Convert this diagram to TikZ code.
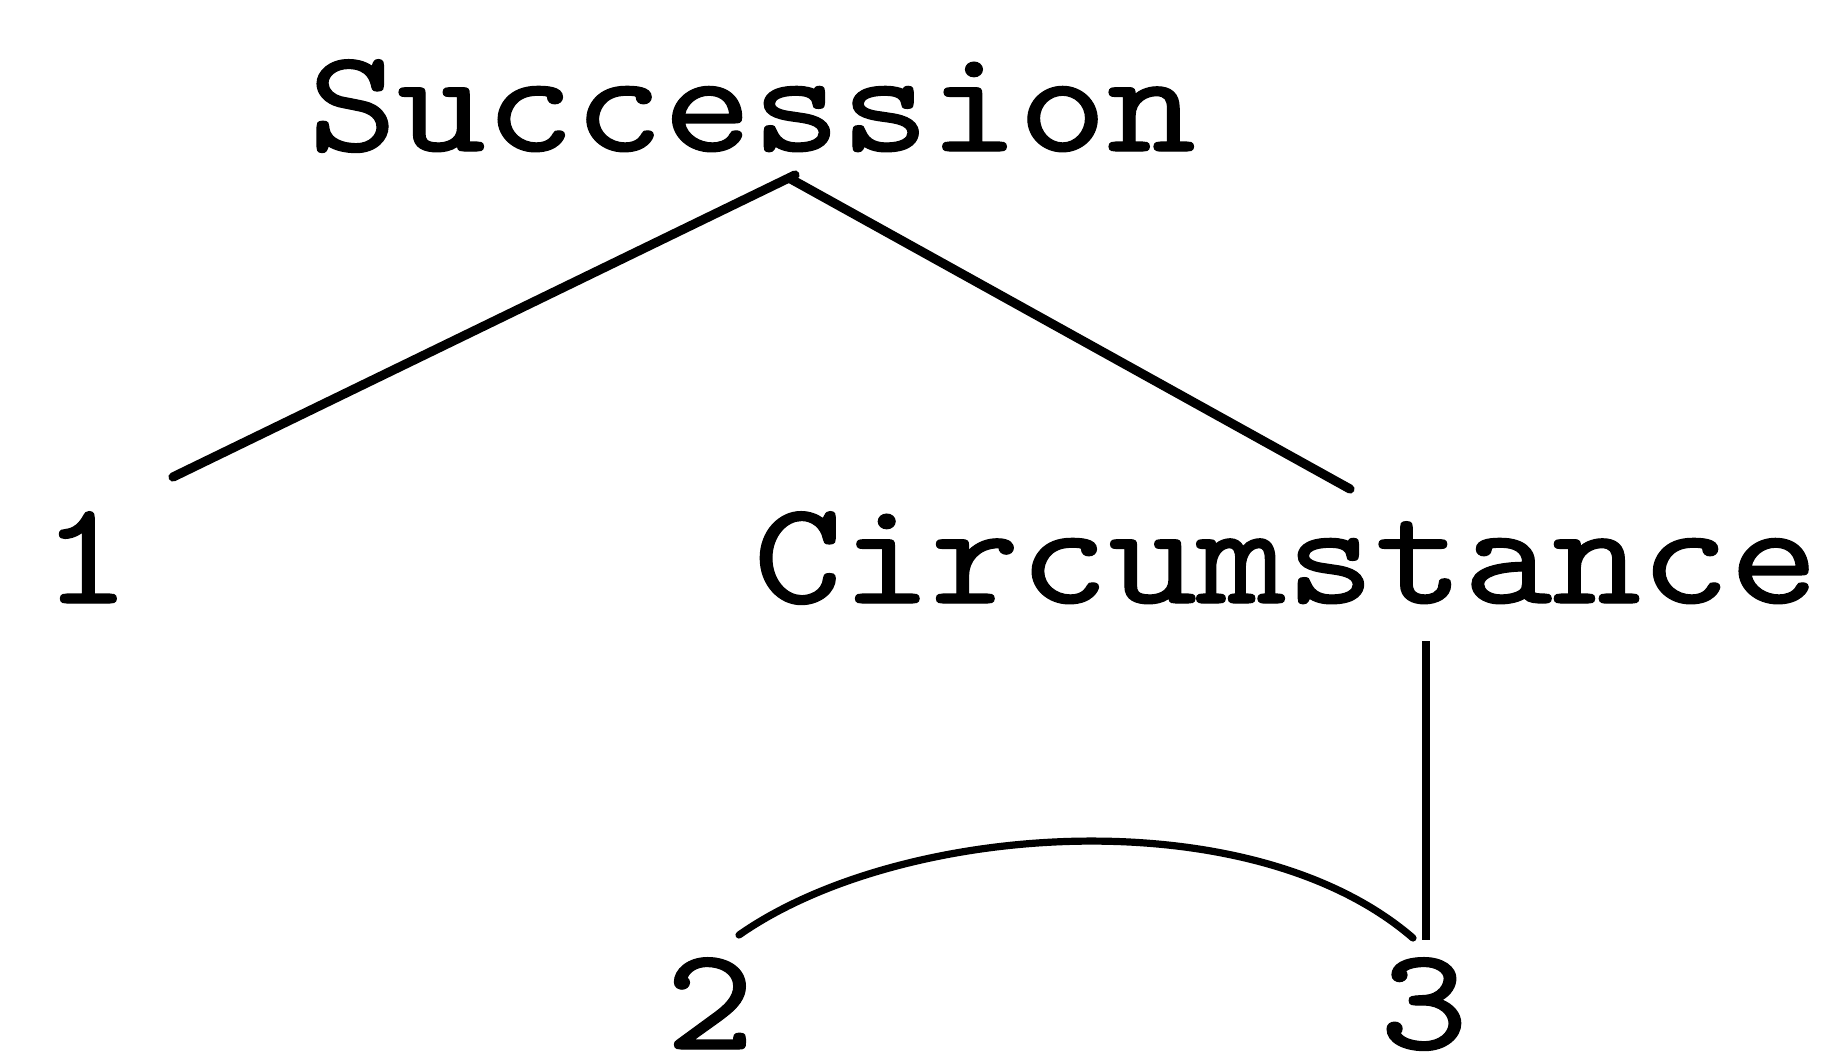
\documentclass[tikz,border=0pt]{standalone}
\usepackage{fontspec}
\newfontfamily\lblfont{lmmono10-regular}[Extension=.otf,FakeStretch=1.15,FakeBold=0.8]
\begin{document}
\begin{tikzpicture}[x=0.5pt,y=-0.5pt,
  lbl/.style={font=\lblfont\fontsize{73.5}{80}\selectfont, inner sep=0pt, anchor=base},
  edge/.style={line width=4.6pt, line cap=round},
  thinedge/.style={line width=3.8pt},
  arcedge/.style={line width=3.6pt, line cap=round}]
\useasboundingbox (0,0) rectangle (1833,1055);
\node[lbl] (succ) at (752,151) {Succession};
\node[lbl] (one) at (86,603) {1};
\node[lbl] (circ) at (1286,603) {Circumstance};
\node[lbl] (two) at (710,1049) {2};
\node[lbl] (three) at (1424,1049) {3};
\coordinate (sL) at (795,175);
\coordinate (sR) at (789,178);
\coordinate (oneT) at (173,477);
\coordinate (circT) at (1350,489);
\coordinate (circB) at (1426,641);
\coordinate (threeT) at (1426,940);
\coordinate (twoT) at (739,935);
\coordinate (threeL) at (1413,938);
\draw[edge] (sL) -- (oneT);
\draw[edge] (sR) -- (circT);
\draw[thinedge] (circB) -- (threeT);
\draw[arcedge] (twoT) .. controls (900,822) and (1250,797) .. (threeL);
\end{tikzpicture}
\end{document}
